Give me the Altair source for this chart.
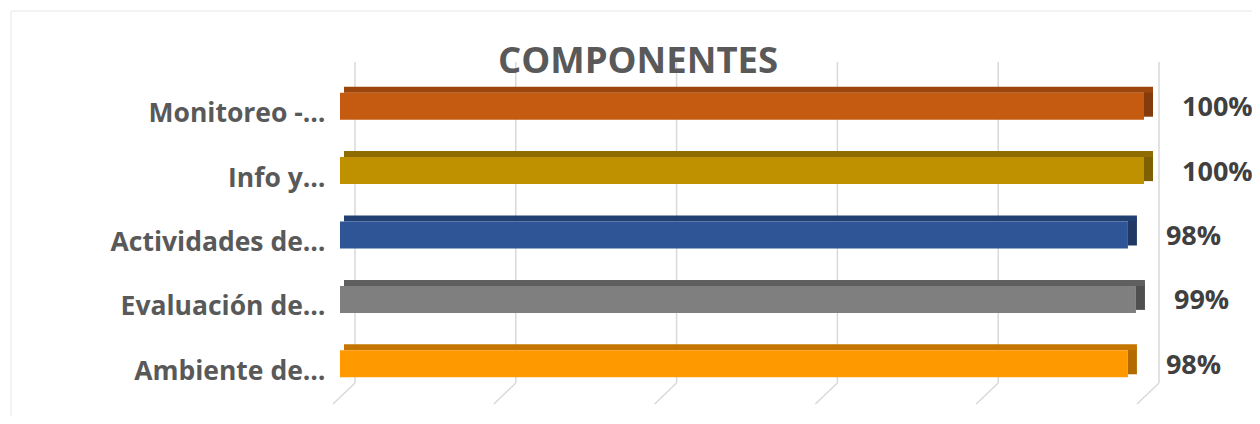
import altair as alt
import pandas as pd

# ---- data ----
categories = ["Monitoreo -…", "Info y…", "Actividades de…", "Evaluación de…", "Ambiente de…"]
values = [1.00, 1.00, 0.98, 0.99, 0.98]
grid_ticks = [0.0, 0.2, 0.4, 0.6, 0.8, 1.0]
title_text = "COMPONENTES"

# ---- styles ----
front_colors = ["#C55A11", "#BF9000", "#2F5597", "#7F7F7F", "#FF9900"]
top_colors = ["#9C450C", "#8F6C00", "#223F72", "#5F5F5F", "#C47500"]
side_colors = ["#843C0C", "#7F6000", "#1F3864", "#4F4F4F", "#B36B00"]
FONT = "Open Sans"

df = pd.DataFrame({"cat": categories, "val": values})
ticks_df = pd.DataFrame({"t": grid_ticks})
title_df = pd.DataFrame({"t": [title_text]})

xscale = alt.Scale(domain=[0, 1], nice=False, zero=True)
x_enc = alt.X("val:Q", scale=xscale, axis=None)
y_enc = alt.Y(
    "cat:N",
    sort=categories,
    scale=alt.Scale(domain=categories, paddingInner=0.58, paddingOuter=0.29),
    axis=alt.Axis(
        title=None,
        labelFont=FONT,
        labelFontWeight="bold",
        labelFontSize=26.5,
        labelColor="#595959",
        labelPadding=15,
        labelOffset=8,
        labelLimit=400,
        ticks=False,
        domain=False,
        grid=False,
        zindex=1,
    ),
)


def col(rng):
    return alt.Color("cat:N", scale=alt.Scale(domain=categories, range=rng), legend=None)


# frame (only the top and left edges fall inside the picture)
frame = alt.Chart(title_df).mark_rect(fillOpacity=0, stroke="#E6E6E6", strokeWidth=1).encode(
    x=alt.value(-329), x2=alt.value(960), y=alt.value(-63), y2=alt.value(380)
)

# back-wall gridlines
grid_v = alt.Chart(ticks_df).mark_rule(color="#D9D9D9", strokeWidth=1.5, xOffset=15, x2Offset=15).encode(
    x=alt.X("t:Q", scale=xscale, axis=None),
    x2="t:Q",
    y=alt.value(-12),
    y2=alt.value(309),
)
# floor gridlines
grid_f = alt.Chart(ticks_df).mark_rule(color="#D9D9D9", strokeWidth=1.5, xOffset=15, x2Offset=-7).encode(
    x=alt.X("t:Q", scale=xscale, axis=None),
    x2="t:Q",
    y=alt.value(309),
    y2=alt.value(330),
)

side = alt.Chart(df).mark_bar(height=27, yOffset=-3, x2Offset=9).encode(
    x=x_enc, x2="val:Q", y=y_enc, color=col(side_colors)
)
top = alt.Chart(df).mark_bar(height=6, yOffset=-16.5, xOffset=4, x2Offset=9).encode(
    x=alt.X("zero:Q", scale=xscale, axis=None), x2="val:Q", y=y_enc, color=col(top_colors)
).transform_calculate(zero="0")
front = alt.Chart(df).mark_bar(height=27).encode(
    x=x_enc, y=y_enc, color=col(front_colors)
)

labels = alt.Chart(df).mark_text(
    align="left", baseline="middle", dx=38, dy=2,
    font=FONT, fontWeight="bold", fontSize=27, color="#404040"
).encode(x=x_enc, y=y_enc, text=alt.Text("val:Q", format=".0%"))

title = alt.Chart(title_df).mark_text(
    align="center", baseline="alphabetic", font=FONT, fontWeight="bold", fontSize=36.5, color="#595959"
).encode(x=alt.value(298), y=alt.value(-1), text="t:N")

chart = (
    alt.layer(frame, grid_v, grid_f, side, top, front, labels, title)
    .resolve_scale(color="independent")
    .properties(
        width=804,
        height=322,
        autosize=alt.AutoSizeParams(type="none"),
        padding={"left": 332, "top": 66, "right": 108, "bottom": 20},
        background="white",
    )
    .configure_view(stroke=None)
)

chart.save("out.html", embed_options={"renderer": "svg", "actions": False})
